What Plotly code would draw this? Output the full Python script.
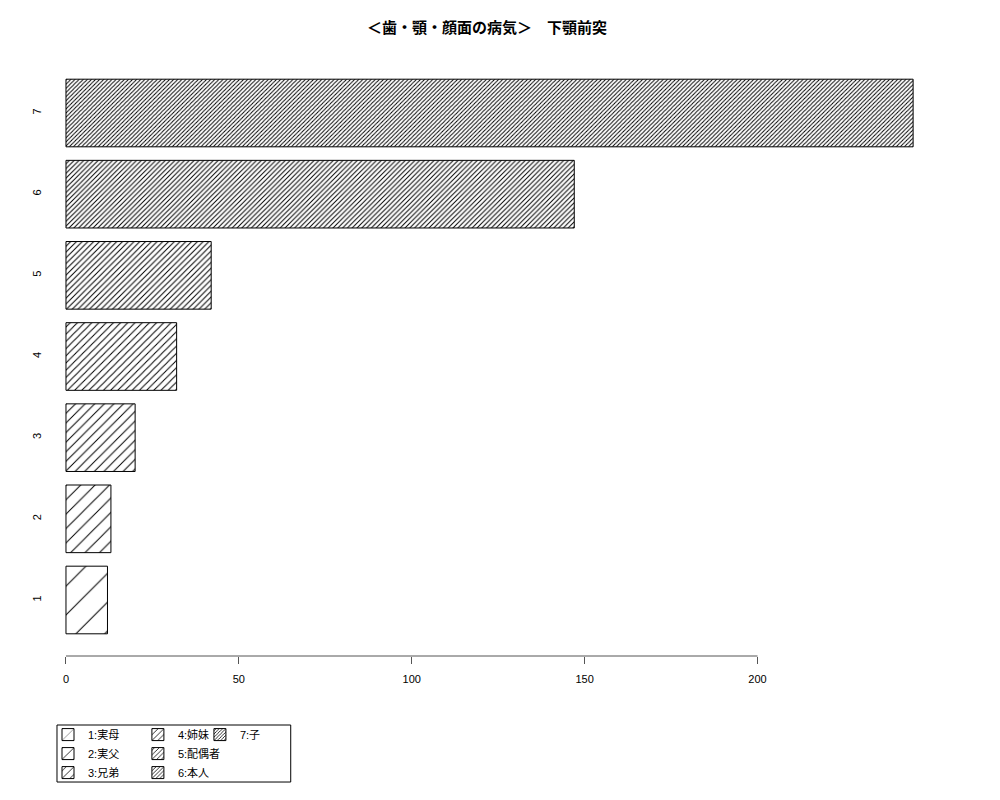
import plotly.graph_objects as go

# data
categories = ["1", "2", "3", "4", "5", "6", "7"]
counts = [12, 13, 20, 32, 42, 147, 245]
legend_labels = ["1:実母", "2:実父", "3:兄弟", "4:姉妹", "5:配偶者", "6:本人", "7:子"]
x_ticks = [0, 50, 100, 150, 200]

# hatch density (R style, lines per inch) -> tile size in px
densities = [5, 10, 15, 20, 25, 30, 35]
legend_ids = ["legend", "legend", "legend", "legend2", "legend2", "legend2", "legend3"]

font_main = "Liberation Sans, Arial, Noto Sans CJK JP, sans-serif"

fig = go.Figure()
for cat, val, name, dens, lg in zip(categories, counts, legend_labels, densities, legend_ids):
    size = 72 * 1.414 / dens
    fig.add_trace(
        go.Bar(
            x=[val],
            y=[cat],
            orientation="h",
            name=name,
            width=1 / 1.2,
            legend=lg,
            marker=dict(
                color="white",
                line=dict(color="black", width=1),
                pattern=dict(
                    shape="/",
                    size=size,
                    solidity=min(1.0 / size, 0.45),
                    fgcolor="black",
                    fgopacity=1,
                    bgcolor="white",
                ),
            ),
        )
    )

# R-style x axis: line only between first and last tick
fig.add_shape(
    type="line", xref="x", yref="paper",
    x0=x_ticks[0], x1=x_ticks[-1], y0=0, y1=0,
    line=dict(color="#555", width=1),
)
# legend box
fig.add_shape(
    type="rect", xref="paper", yref="paper",
    x0=0.010, x1=0.270, y0=-0.1152, y1=-0.2104,
    line=dict(color="black", width=1),
)

leg_common = dict(
    font=dict(family=font_main, size=11, color="black"),
    bgcolor="rgba(0,0,0,0)",
    yanchor="top",
    y=-0.107,
    xanchor="left",
    traceorder="normal",
)

fig.update_layout(
    width=1000,
    height=800,
    paper_bgcolor="white",
    plot_bgcolor="white",
    margin=dict(l=40, r=61, t=49, b=152),
    title=dict(
        text="<b>＜歯・顎・顔面の病気＞　下顎前突</b>",
        x=0.479,
        xanchor="center",
        y=0.975,
        yanchor="middle",
        font=dict(family="Noto Sans CJK JP, sans-serif", size=15, color="black"),
    ),
    font=dict(family=font_main, size=11, color="black"),
    barmode="overlay",
    showlegend=True,
    legend=dict(x=0.0, **leg_common),
    legend2=dict(x=0.100, **leg_common),
    legend3=dict(x=0.169, **leg_common),
    xaxis=dict(
        range=[-5.2, 254.8],
        tickvals=x_ticks,
        ticks="outside",
        ticklen=7,
        tickcolor="#555",
        ticklabelstandoff=6,
        showgrid=False,
        zeroline=False,
        showline=False,
        tickfont=dict(size=11),
    ),
    yaxis=dict(
        type="category",
        categoryorder="array",
        categoryarray=categories,
        range=[-0.69, 6.69],
        tickangle=-90,
        ticks="",
        ticklabelstandoff=4,
        showgrid=False,
        zeroline=False,
        showline=False,
        tickfont=dict(size=11),
    ),
)

fig.write_html("out.html")
